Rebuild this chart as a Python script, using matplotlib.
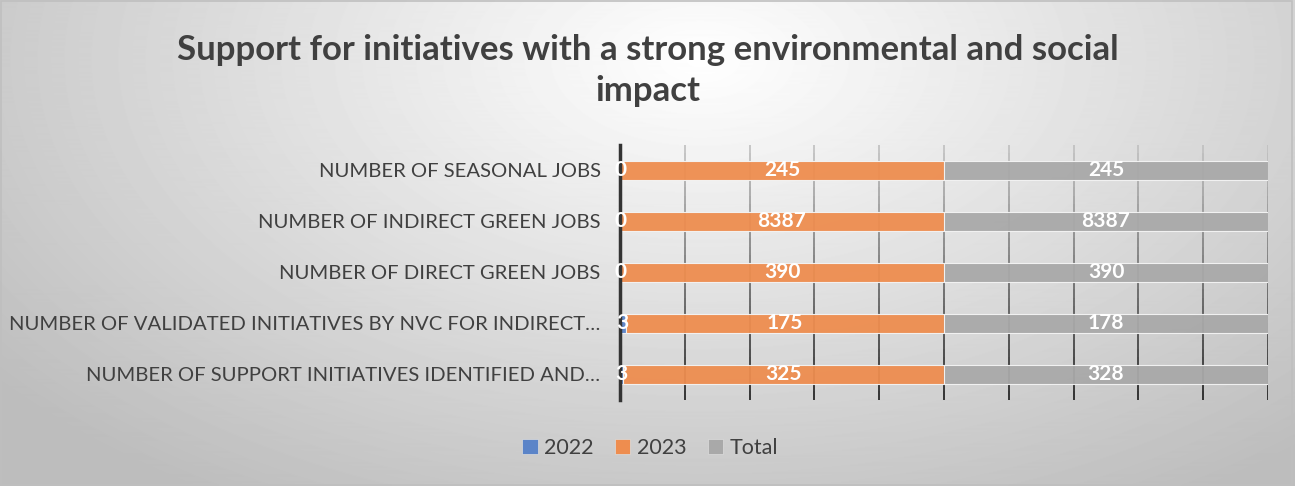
import numpy as np
import matplotlib
matplotlib.use("Agg")
import matplotlib.pyplot as plt
from matplotlib.collections import LineCollection
from matplotlib.patches import Patch

# data (bottom -> top)
categories = [
    "NUMBER OF SUPPORT INITIATIVES IDENTIFIED AND\u2026",
    "NUMBER OF VALIDATED INITIATIVES BY NVC FOR INDIRECT\u2026",
    "NUMBER OF DIRECT GREEN JOBS",
    "NUMBER OF INDIRECT GREEN JOBS",
    "NUMBER OF SEASONAL JOBS",
]
series_names = ["2022", "2023", "Total"]
v2022 = [3, 3, 0, 0, 0]
v2023 = [325, 175, 390, 8387, 245]
vtotal = [328, 178, 390, 8387, 245]
colors = ["#5B84C8", "#EE8D4F", "#A9A9A9"]

plt.rcParams['font.family'] = ['Lato', 'DejaVu Sans']
txt = "#404040"

fig = plt.figure(figsize=(12.95, 4.86), dpi=100)

# radial background gradient
bg = fig.add_axes([0, 0, 1, 1], zorder=-10)
yy, xx = np.mgrid[0:486, 0:1295]
r = np.sqrt(((xx - 700) / 900.0) ** 2 + ((yy - 60) / 520.0) ** 2)
shade = np.clip(1.0 - 0.26 * r, 0.74, 1.0)
bg.imshow(shade, cmap="gray", vmin=0, vmax=1, aspect="auto",
          extent=[0, 1, 0, 1], origin="upper")
bg.set_xlim(0, 1); bg.set_ylim(0, 1)
bg.axis("off")
bg.add_patch(plt.Rectangle((0.001, 0.002), 0.997, 0.995, fill=False,
                           edgecolor="#bfbfbf", lw=1.2))

ax = fig.add_axes([0.4788, 0.177, 0.5004, 0.525])
ax.patch.set_alpha(0)

data = np.array([v2022, v2023, vtotal], dtype=float)
shares = data / data.sum(axis=0)
y = np.arange(len(categories))
left = np.zeros(len(categories))
for i, name in enumerate(series_names):
    bars = ax.barh(y, shares[i], left=left, height=0.36, color=colors[i],
                   edgecolor="#f4f4f4", linewidth=0.8, alpha=0.95,
                   label=name, zorder=3)
    raw = data[i]
    for b, val in zip(bars, raw):
        cx = b.get_x() + b.get_width() / 2
        ax.text(cx, b.get_y() + b.get_height() / 2, f"{int(val)}",
                ha="center", va="center", color="white", fontsize=15,
                fontweight="bold", zorder=5)
    left += shares[i]

ax.set_xlim(0, 1)
ax.set_ylim(-0.5, len(categories) - 0.5)

# gradient gridlines
ticks = np.linspace(0, 1, 11)
nseg = 30
ys = np.linspace(-0.5, len(categories) - 0.5, nseg + 1)
for t in ticks[1:]:
    segs = [[(t, ys[k]), (t, ys[k + 1])] for k in range(nseg)]
    g = np.linspace(0.1, 0.75, nseg)
    lc = LineCollection(segs, colors=[(c, c, c) for c in g], linewidths=1.2,
                        zorder=1)
    ax.add_collection(lc)

for s in ["top", "right", "bottom"]:
    ax.spines[s].set_visible(False)
ax.spines["left"].set_color("#333333")
ax.spines["left"].set_linewidth(2.5)
ax.spines["left"].set_zorder(4)
ax.set_xticks([])
ax.set_yticks(y)
ax.set_yticklabels(categories, fontsize=14.6, color=txt)
ax.tick_params(axis="y", length=0, pad=14)

fig.text(0.5, 0.855, "Support for initiatives with a strong environmental and social\nimpact",
         ha="center", va="center", fontsize=25, fontweight="bold", color=txt,
         linespacing=1.38)

handles = [Patch(facecolor=c, edgecolor="#dddddd", lw=0.5) for c in colors]
fig.legend(handles, series_names, loc="center", bbox_to_anchor=(0.502, 0.078),
           ncol=3, frameon=False, fontsize=15.5, handlelength=0.7,
           handleheight=0.7, columnspacing=1.0, handletextpad=0.3,
           labelcolor=txt)

fig.savefig("out.png", dpi=100)
